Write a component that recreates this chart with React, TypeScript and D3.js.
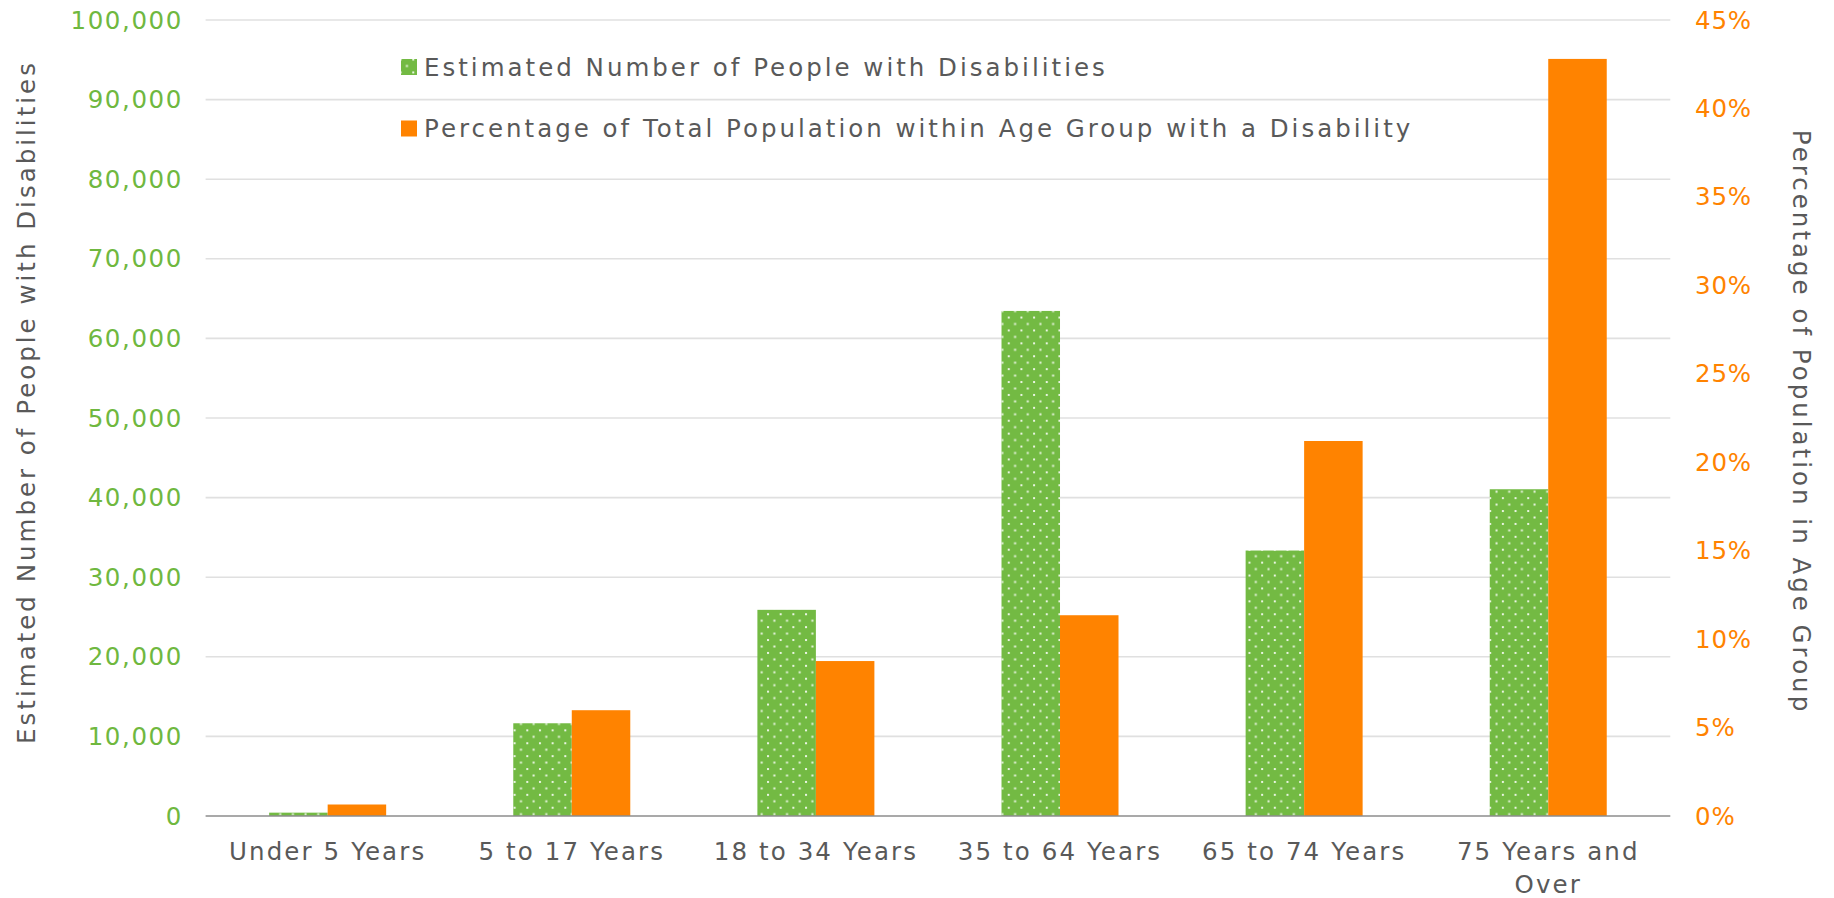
import React from "react";
import * as d3 from "d3";

// Age groups along the x axis
const categories = [
  "Under 5 Years",
  "5 to 17 Years",
  "18 to 34 Years",
  "35 to 64 Years",
  "65 to 74 Years",
  "75 Years and Over",
];

// Estimated number of people with disabilities (left axis)
const peopleCounts = [420, 11650, 25900, 63450, 33350, 41050];

// Share of each age group's population with a disability (right axis)
const percentShares = [0.0065, 0.0598, 0.0876, 0.1135, 0.2120, 0.4280];

const seriesNames = [
  "Estimated Number of People with Disabilities",
  "Percentage of Total Population within Age Group with a Disability",
];

const leftTicks = [0, 10000, 20000, 30000, 40000, 50000, 60000, 70000, 80000, 90000, 100000];
const rightTicks = [0, 0.05, 0.1, 0.15, 0.2, 0.25, 0.3, 0.35, 0.4, 0.45];

const leftTitle = "Estimated Number of People with Disabilities";
const rightTitle = "Percentage of Population in Age Group";

const W = 1834;
const H = 898;
const FONT = "'DejaVu Sans', sans-serif";
const GREEN = "#73ba43";
const GREEN_TEXT = "#6fb83f";
const ORANGE = "#ff8300";
const GREY_TEXT = "#595959";

const plot = { left: 205.6, right: 1670.3, top: 20, bottom: 816 };

// Break long category names into two lines
function wrapLabel(label: string): string[] {
  if (label.length <= 15) return [label];
  const words = label.split(" ");
  const last = words.pop() as string;
  return [words.join(" "), last];
}

export default function App() {
  const barW = 58.5;
  const step = (plot.right - plot.left) / categories.length;
  const pad = 1 - (2 * barW) / step;
  const x0 = d3
    .scaleBand<string>()
    .domain(categories)
    .range([plot.left, plot.right])
    .paddingInner(pad)
    .paddingOuter(pad / 2);
  const x1 = d3.scaleBand<string>().domain(["count", "pct"]).range([0, x0.bandwidth()]);

  const yLeft = d3.scaleLinear().domain([0, 100000]).range([plot.bottom, plot.top]);
  const yRight = d3.scaleLinear().domain([0, 0.45]).range([plot.bottom, plot.top]);

  const fmtLeft = d3.format(",");
  const fmtRight = d3.format(".0%");

  const fs = 24.5;
  const textSpacing = 3.0;

  return (
    <svg
      width={W}
      height={H}
      style={{ position: "absolute", left: 0, top: 0, background: "#fff" }}
      fontFamily={FONT}
    >
      <defs>
        <pattern id="dots" width={12.67} height={12.9} patternUnits="userSpaceOnUse">
          <rect width={12.67} height={12.9} fill={GREEN} />
          <rect x={0.5} y={0.5} width={2} height={2} fill="#fff" opacity={0.85} />
          <rect x={6.83} y={6.95} width={2} height={2} fill="#fff" opacity={0.85} />
        </pattern>
      </defs>

      {/* horizontal gridlines */}
      {leftTicks.slice(1).map((t) => (
        <line
          key={"g" + t}
          x1={plot.left}
          x2={plot.right}
          y1={yLeft(t)}
          y2={yLeft(t)}
          stroke="#e0e0e0"
          strokeWidth={1.6}
        />
      ))}

      {/* bars */}
      {categories.map((c, i) => {
        const bx = x0(c) as number;
        return (
          <g key={c}>
            <rect
              x={bx + (x1("count") as number)}
              y={yLeft(peopleCounts[i])}
              width={x1.bandwidth()}
              height={plot.bottom - yLeft(peopleCounts[i])}
              fill="url(#dots)"
            />
            <rect
              x={bx + (x1("pct") as number)}
              y={yRight(percentShares[i])}
              width={x1.bandwidth()}
              height={plot.bottom - yRight(percentShares[i])}
              fill={ORANGE}
            />
          </g>
        );
      })}

      {/* baseline */}
      <line
        x1={plot.left}
        x2={plot.right}
        y1={plot.bottom}
        y2={plot.bottom}
        stroke="#8c8c8c"
        strokeWidth={1.5}
      />

      {/* left tick labels */}
      {leftTicks.map((t) => (
        <text
          key={"l" + t}
          x={183}
          y={yLeft(t)}
          textAnchor="end"
          dominantBaseline="central"
          fontSize={fs}
          letterSpacing={1.6}
          fill={GREEN_TEXT}
        >
          {fmtLeft(t)}
        </text>
      ))}

      {/* right tick labels */}
      {rightTicks.map((t) => (
        <text
          key={"r" + t}
          x={1695}
          y={yRight(t)}
          textAnchor="start"
          dominantBaseline="central"
          fontSize={fs}
          letterSpacing={0.8}
          fill={ORANGE}
        >
          {fmtRight(t)}
        </text>
      ))}

      {/* category labels */}
      {categories.map((c) => {
        const cx = (x0(c) as number) + x0.bandwidth() / 2;
        const lines = wrapLabel(c);
        return (
          <text
            key={"x" + c}
            x={cx}
            y={860}
            textAnchor="middle"
            fontSize={fs}
            letterSpacing={2.1}
            fill={GREY_TEXT}
          >
            {lines.map((ln, j) => (
              <tspan key={j} x={cx} dy={j === 0 ? 0 : 33}>
                {ln}
              </tspan>
            ))}
          </text>
        );
      })}

      {/* axis titles */}
      <text
        transform={`translate(26, 402) rotate(-90)`}
        textAnchor="middle"
        dominantBaseline="central"
        fontSize={fs}
        letterSpacing={textSpacing}
        fill={GREY_TEXT}
      >
        {leftTitle}
      </text>
      <text
        transform={`translate(1801, 422) rotate(90)`}
        textAnchor="middle"
        dominantBaseline="central"
        fontSize={fs}
        letterSpacing={textSpacing}
        fill={GREY_TEXT}
      >
        {rightTitle}
      </text>

      {/* legend */}
      <g>
        <rect x={401} y={59} width={16} height={16} fill="url(#dots)" />
        <text
          x={424}
          y={67.5}
          dominantBaseline="central"
          fontSize={fs}
          letterSpacing={textSpacing}
          fill={GREY_TEXT}
        >
          {seriesNames[0]}
        </text>
        <rect x={401} y={120.5} width={16} height={16} fill={ORANGE} />
        <text
          x={424}
          y={128.5}
          dominantBaseline="central"
          fontSize={fs}
          letterSpacing={textSpacing}
          fill={GREY_TEXT}
        >
          {seriesNames[1]}
        </text>
      </g>
    </svg>
  );
}
